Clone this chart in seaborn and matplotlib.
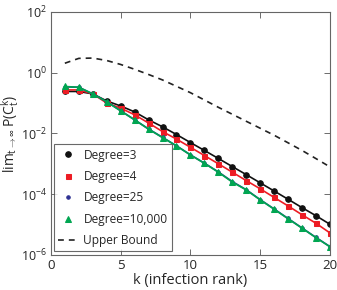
import numpy as np
import pandas as pd
import matplotlib
matplotlib.use("Agg")
import matplotlib.pyplot as plt
import seaborn as sns

k = list(range(1, 21))
deg3 = [0.24, 0.24, 0.20, 0.117, 0.080, 0.051, 0.028, 0.0165, 0.0092, 5.0e-3,
        2.75e-3, 1.5e-3, 8.1e-4, 4.4e-4, 2.36e-4, 1.27e-4, 6.8e-5, 3.6e-5, 1.95e-5, 1.02e-5]
deg4 = [0.27, 0.27, 0.20, 0.10, 0.068, 0.041, 0.022, 0.0115, 6.5e-3, 3.5e-3,
        1.87e-3, 1.0e-3, 5.3e-4, 2.8e-4, 1.5e-4, 7.8e-5, 4.1e-5, 2.1e-5, 1.1e-5, 5.3e-6]
deg25 = [0.34, 0.33, 0.20, 0.11, 0.056, 0.028, 0.014, 0.0074, 3.9e-3, 1.97e-3,
         1.05e-3, 5.4e-4, 2.6e-4, 1.4e-4, 6.6e-5, 3.25e-5, 1.58e-5, 7.7e-6, 3.75e-6, 1.88e-6]
deg10000 = [0.35, 0.33, 0.20, 0.11, 0.055, 0.028, 0.0138, 0.0073, 3.9e-3, 1.95e-3,
            1.04e-3, 5.3e-4, 2.5e-4, 1.38e-4, 6.5e-5, 3.2e-5, 1.55e-5, 7.6e-6, 3.7e-6, 1.85e-6]
upper = [2.04, 2.95, 3.02, 2.51, 1.86, 1.29, 0.87, 0.575, 0.355, 0.219,
         0.126, 0.0724, 0.0427, 0.0251, 0.0148, 0.0087, 0.0049, 0.00275, 0.00148, 0.00079]

labels = ["Degree=3", "Degree=4", "Degree=25", "Degree=10,000"]
series = [deg3, deg4, deg25, deg10000]
colors = ["#111111", "#ed1c24", "#2e3192", "#00a651"]
markers = ["o", "s", "o", "^"]
msizes = [4.0, 3.6, 2.5, 4.5]

sns.set_style("ticks")
plt.rcParams['font.family'] = ['Open Sans', 'DejaVu Sans']
plt.rcParams['mathtext.fontset'] = 'custom'
plt.rcParams['mathtext.rm'] = 'Open Sans'
plt.rcParams['mathtext.it'] = 'Open Sans'

fig = plt.figure(figsize=(3.37, 2.90), dpi=100)
ax = fig.add_axes([0.151, 0.121, 0.828, 0.838])

for lab, s, c, m, ms in zip(labels, series, colors, markers, msizes):
    df = pd.DataFrame({"k": k, "p": s})
    sns.lineplot(data=df, x="k", y="p", ax=ax, color=c, marker=m, markersize=ms,
                 markeredgecolor=c, linewidth=1.2, label=lab)

dfu = pd.DataFrame({"k": k, "p": upper})
sns.lineplot(data=dfu, x="k", y="p", ax=ax, color="#222222", linestyle=(0, (3.5, 3)),
             linewidth=1.2, label="Upper Bound")

ax.set_yscale("log")
ax.set_xlim(0, 20)
ax.set_ylim(1e-6, 1e2)
ax.set_xticks([0, 5, 10, 15, 20])
ax.set_yticks([1e-6, 1e-4, 1e-2, 1e0, 1e2])
ax.yaxis.set_minor_locator(matplotlib.ticker.NullLocator())
ax.tick_params(direction="in", top=True, right=True, length=4, width=0.6,
               labelsize=9.5, color="#555555", pad=3)
ax.tick_params(axis="y", labelsize=9, pad=2.5)
for sp in ax.spines.values():
    sp.set_linewidth(0.8)
    sp.set_color("#666666")
ax.set_xlabel("k (infection rank)", fontsize=10.5, labelpad=1)
ax.set_ylabel(r"$\mathrm{lim}_{t\rightarrow\infty}\,\mathrm{P(C}_t^k\mathrm{)}$", fontsize=10)
ax.yaxis.set_label_coords(-0.108, 0.5)

leg = ax.legend(loc="lower left", fontsize=8.6, frameon=True, fancybox=False,
                edgecolor="#444444", borderpad=0.35, labelspacing=0.7,
                handlelength=1.6, handletextpad=0.5, borderaxespad=0.0,
                bbox_to_anchor=(0.012, 0.015))
leg.get_frame().set_linewidth(0.8)
for line in leg.get_lines()[:4]:
    line.set_linestyle("None")

fig.savefig("out.png", dpi=100)
